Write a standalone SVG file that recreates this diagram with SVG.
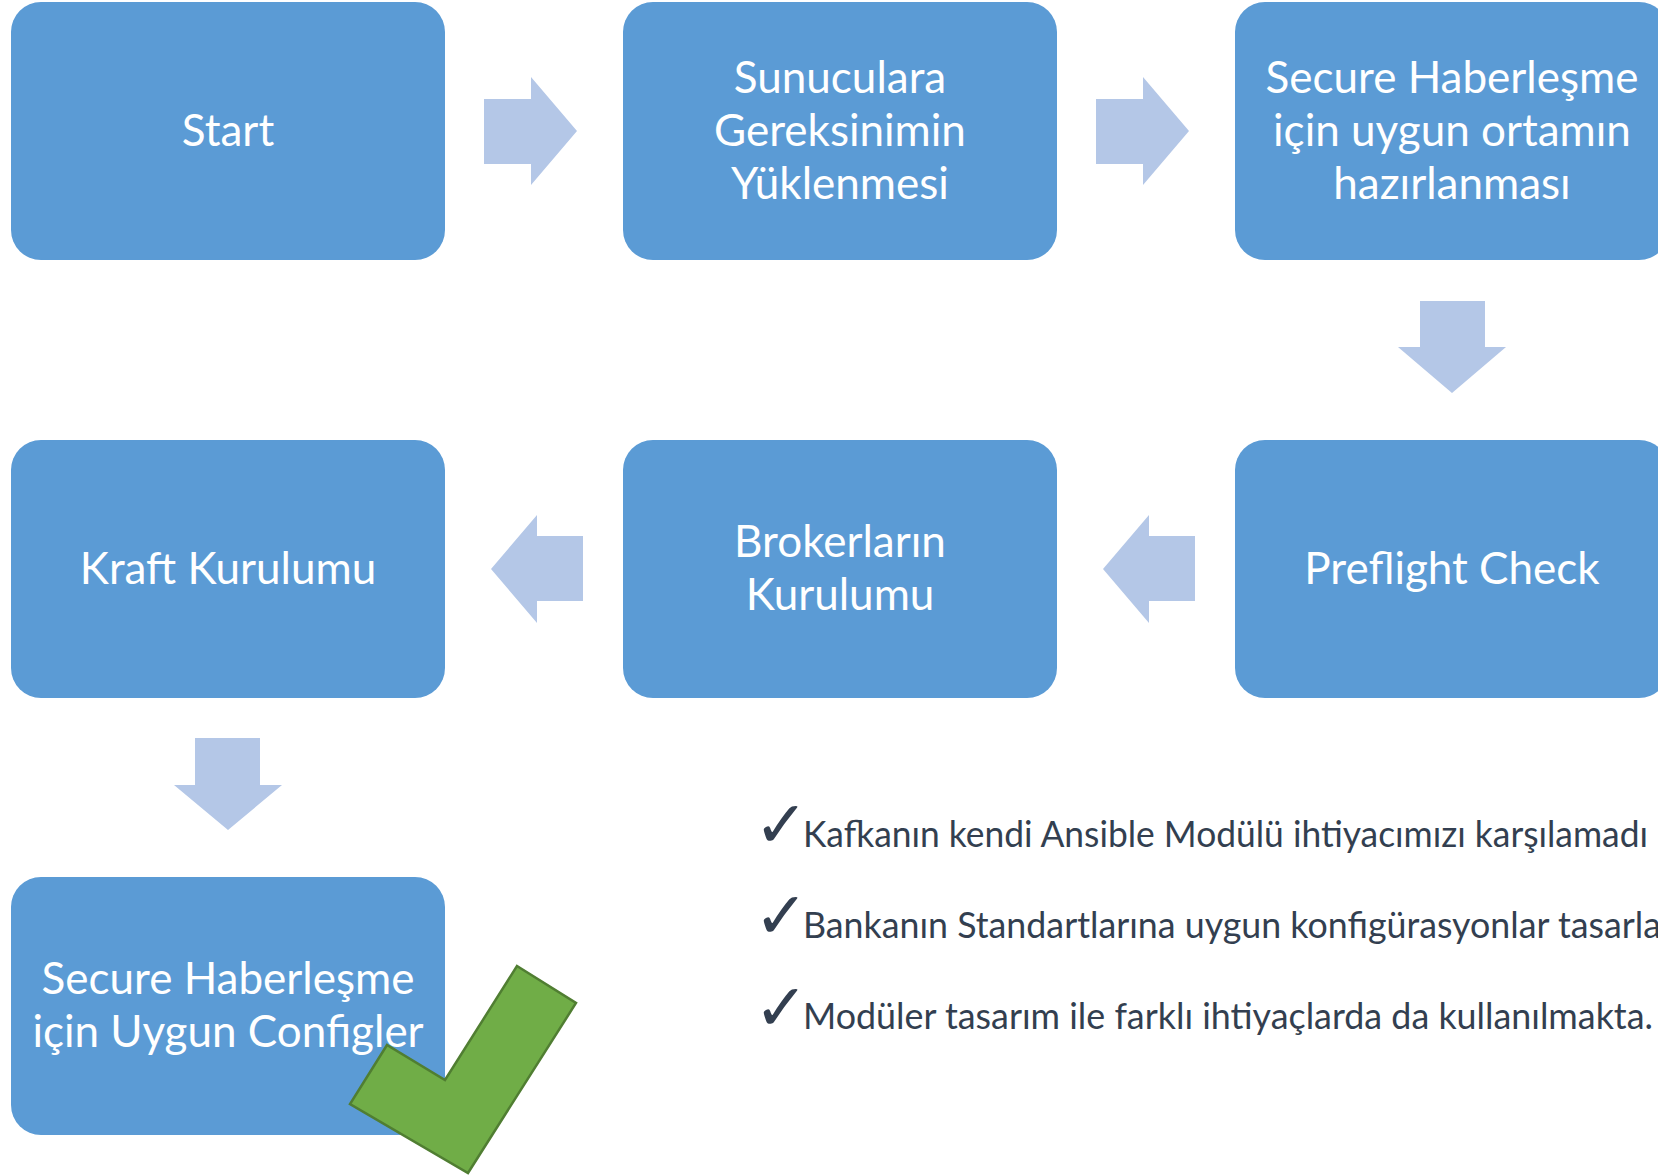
<svg xmlns="http://www.w3.org/2000/svg" width="1658" height="1175" viewBox="0 0 1658 1175">
<style>
.box{fill:#5B9BD5;}
.lbl{font-family:Lato,"Liberation Sans",sans-serif;font-size:44px;fill:#FFFFFF;text-anchor:middle;}
.arr{fill:#B4C7E7;}
.note{font-family:Lato,"Liberation Sans",sans-serif;font-size:37px;fill:#333F50;}
.tick{font-family:"DejaVu Sans",sans-serif;font-size:65px;fill:#333F50;}
</style>
<rect width="1658" height="1175" fill="#FFFFFF"/>
<g id="connectors">
<polygon class="arr" points="484,99 531,99 531,77 577,131 531,185 531,164 484,164"/>
<polygon class="arr" points="1096,99 1143,99 1143,77 1189,131 1143,185 1143,164 1096,164"/>
<polygon class="arr" points="1420,301 1485,301 1485,347 1506,347 1452,393 1398,347 1420,347"/>
<polygon class="arr" points="1103,569 1149,515 1149,536 1195,536 1195,601 1149,601 1149,623"/>
<polygon class="arr" points="491,569 537,515 537,536 583,536 583,601 537,601 537,623"/>
<polygon class="arr" points="195,738 260,738 260,785 282,785 228,830 174,785 195,785"/>
</g>
<g id="node-start">
<rect class="box" x="11" y="2" width="434" height="258" rx="30"/>
<text class="lbl" x="228" y="146">Start</text>
</g>
<g id="node-sunuculara">
<rect class="box" x="623" y="2" width="434" height="258" rx="30"/>
<text class="lbl" x="840" y="93">Sunuculara</text>
<text class="lbl" x="840" y="146">Gereksinimin</text>
<text class="lbl" x="840" y="199">Yüklenmesi</text>
</g>
<g id="node-secure-ortam">
<rect class="box" x="1235" y="2" width="434" height="258" rx="30"/>
<text class="lbl" x="1452" y="93">Secure Haberleşme</text>
<text class="lbl" x="1452" y="146">için uygun ortamın</text>
<text class="lbl" x="1452" y="199">hazırlanması</text>
</g>
<g id="node-preflight">
<rect class="box" x="1235" y="440" width="434" height="258" rx="30"/>
<text class="lbl" x="1452" y="584">Preflight Check</text>
</g>
<g id="node-brokerlar">
<rect class="box" x="623" y="440" width="434" height="258" rx="30"/>
<text class="lbl" x="840" y="557">Brokerların</text>
<text class="lbl" x="840" y="610">Kurulumu</text>
</g>
<g id="node-kraft">
<rect class="box" x="11" y="440" width="434" height="258" rx="30"/>
<text class="lbl" x="228" y="584">Kraft Kurulumu</text>
</g>
<g id="node-secure-config">
<rect class="box" x="11" y="877" width="434" height="258" rx="30"/>
<text class="lbl" x="228" y="994">Secure Haberleşme</text>
<text class="lbl" x="228" y="1047">için Uygun Configler</text>
</g>
<g id="checkmark">
<polygon points="517,966 576,1003 468,1173 350,1104 387,1045 445,1080" fill="#70AD47" stroke="#507E32" stroke-width="2.5" stroke-linejoin="miter"/>
</g>
<g id="notes">
<text class="tick" x="754" y="847">✓</text>
<text class="note" x="803" y="847" textLength="845" lengthAdjust="spacingAndGlyphs">Kafkanın kendi Ansible Modülü ihtiyacımızı karşılamadı</text>
<text class="tick" x="754" y="938">✓</text>
<text class="note" x="803" y="938" textLength="858" lengthAdjust="spacingAndGlyphs">Bankanın Standartlarına uygun konfigürasyonlar tasarla</text>
<text class="tick" x="754" y="1030">✓</text>
<text class="note" x="803" y="1029" textLength="850" lengthAdjust="spacingAndGlyphs">Modüler tasarım ile farklı ihtiyaçlarda da kullanılmakta.</text>
</g>
</svg>
